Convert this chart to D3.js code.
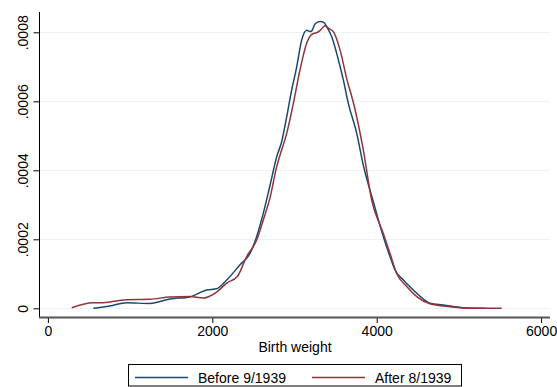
<!DOCTYPE html>
<html>
<head>
  <meta charset="utf-8">
  <title>Birth weight density</title>
  <script src="https://d3js.org/d3.v7.min.js"></script>
  <style>
    body { margin: 0; background: #fff; }
    text { font-family: Arial, 'Liberation Sans', sans-serif; font-size: 14px; fill: #000; }
  </style>
</head>
<body>
  <div id="chart"></div>
  <script>
    // Birth weight (g) and kernel density (x 1e-5)
    var beforeX = [552, 755, 959, 1242, 1485, 1728, 1932, 2053, 2175, 2337, 2459, 2540, 2620, 2702, 2783, 2844, 2905, 2966, 3027, 3088, 3148, 3189, 3210, 3249, 3310, 3359, 3392, 3453, 3513, 3594, 3655, 3757, 3837, 3959, 4080, 4162, 4223, 4324, 4445, 4567, 4648, 4810, 5053, 5318];
    var beforeY = [0, 0.67, 1.6, 1.4, 2.7, 3.3, 5.3, 5.65, 8.2, 12.6, 15.9, 20.8, 27.5, 35.6, 43.9, 48.3, 55.5, 63.3, 70.0, 77.8, 80.6, 80.2, 80.4, 82.4, 83.1, 82.8, 81.6, 78.7, 73.9, 66.2, 59.4, 50.7, 41.5, 30.9, 20.8, 15.0, 11.1, 8.2, 5.3, 2.7, 1.45, 0.96, 0.17, 0];
    var afterX = [290, 552, 634, 959, 1242, 1485, 1728, 1890, 2053, 2175, 2304, 2418, 2540, 2620, 2702, 2783, 2824, 2905, 2986, 3067, 3148, 3209, 3270, 3310, 3371, 3411, 3472, 3554, 3630, 3736, 3837, 3939, 4080, 4162, 4243, 4365, 4487, 4648, 4892, 5135, 5521];
    var afterY = [0.17, 1.6, 1.6, 2.5, 2.6, 3.3, 3.4, 3.0, 4.7, 7.3, 9.2, 15.0, 19.8, 25.6, 32.0, 41.0, 44.4, 50.7, 59.4, 69.1, 76.8, 79.4, 79.9, 80.5, 81.9, 81.2, 80.2, 74.9, 67.1, 57.7, 45.9, 31.4, 21.7, 15.9, 10.1, 6.3, 3.4, 1.3, 0.46, 0, 0];
    var xTicks = [0, 2000, 4000, 6000];
    var yTicks = [0, 0.0002, 0.0004, 0.0006, 0.0008];
    var seriesNames = ["Before 9/1939", "After 8/1939"];
    var colors = ["#1a476f", "#90353b"];

    var W = 557, H = 387;
    var plot = {left: 39.5, right: 550, top: 12, bottom: 317};

    var svg = d3.select("#chart").append("svg")
      .attr("width", W).attr("height", H);

    var x = d3.scaleLinear().domain([0, 6000]).range([47.9, 541.1]);
    var y = d3.scaleLinear().domain([0, 0.0008]).range([308.3, 32.3]);

    // gridlines
    svg.append("g").selectAll("line").data(yTicks).enter().append("line")
      .attr("x1", plot.left).attr("x2", plot.right)
      .attr("y1", function(d) { return Math.round(y(d)) + 0.5; })
      .attr("y2", function(d) { return Math.round(y(d)) + 0.5; })
      .attr("stroke", "#eaf2f3").attr("stroke-width", 1.2);

    // density curves
    var series = [
      beforeX.map(function(v, i) { return [v, beforeY[i] * 1e-5]; }),
      afterX.map(function(v, i) { return [v, afterY[i] * 1e-5]; })
    ];
    var line = d3.line()
      .x(function(d) { return x(d[0]); })
      .y(function(d) { return y(d[1]); })
      .curve(d3.curveMonotoneX);
    svg.append("g").selectAll("path").data(series).enter().append("path")
      .attr("d", line)
      .attr("fill", "none")
      .attr("stroke", function(d, i) { return colors[i]; })
      .attr("stroke-width", 1.5);

    // y axis
    var yAxis = svg.append("g")
      .attr("transform", "translate(" + plot.left + ",0)")
      .call(d3.axisLeft(y).tickValues(yTicks).tickSize(6).tickPadding(6)
        .tickFormat(function(d) { return d === 0 ? "0" : d3.format(".4f")(d).replace(/^0/, ""); }));
    yAxis.select(".domain").remove();
    yAxis.append("line")
      .attr("y1", plot.top).attr("y2", plot.bottom)
      .attr("stroke", "#000");
    yAxis.selectAll(".tick line").attr("stroke", "#000");
    yAxis.selectAll(".tick text")
      .attr("x", null).attr("dy", null)
      .attr("transform", "translate(-12,0) rotate(-90)")
      .attr("text-anchor", "middle")
      .attr("font-size", 14).attr("font-family", "Arial, 'Liberation Sans', sans-serif");

    // x axis
    var xAxis = svg.append("g")
      .attr("transform", "translate(0," + plot.bottom + ")")
      .call(d3.axisBottom(x).tickValues(xTicks).tickSize(6).tickPadding(3)
        .tickFormat(d3.format("d")));
    xAxis.select(".domain").remove();
    xAxis.append("line")
      .attr("x1", plot.left - 0.5).attr("x2", plot.right)
      .attr("y1", 0.5).attr("y2", 0.5)
      .attr("stroke", "#555").attr("stroke-width", 2);
    xAxis.selectAll(".tick line").attr("stroke", "#000");
    xAxis.selectAll(".tick text")
      .attr("font-size", 14).attr("font-family", "Arial, 'Liberation Sans', sans-serif");

    svg.append("text")
      .attr("x", 295).attr("y", 352)
      .attr("text-anchor", "middle")
      .text("Birth weight");

    // legend
    var legend = svg.append("g");
    legend.append("rect")
      .attr("x", 128.5).attr("y", 364.5).attr("width", 333).attr("height", 21.5)
      .attr("fill", "#fff").attr("stroke", "#000");
    var items = legend.selectAll("g.item").data(seriesNames).enter().append("g")
      .attr("class", "item")
      .attr("transform", function(d, i) { return "translate(" + (135 + i * 177) + ",0)"; });
    items.append("line")
      .attr("x1", 0).attr("x2", 53)
      .attr("y1", 377.5).attr("y2", 377.5)
      .attr("stroke", function(d, i) { return colors[i]; })
      .attr("stroke-width", 1.5);
    items.append("text")
      .attr("x", 63).attr("y", 382.5)
      .text(function(d) { return d; });
  </script>
</body>
</html>
